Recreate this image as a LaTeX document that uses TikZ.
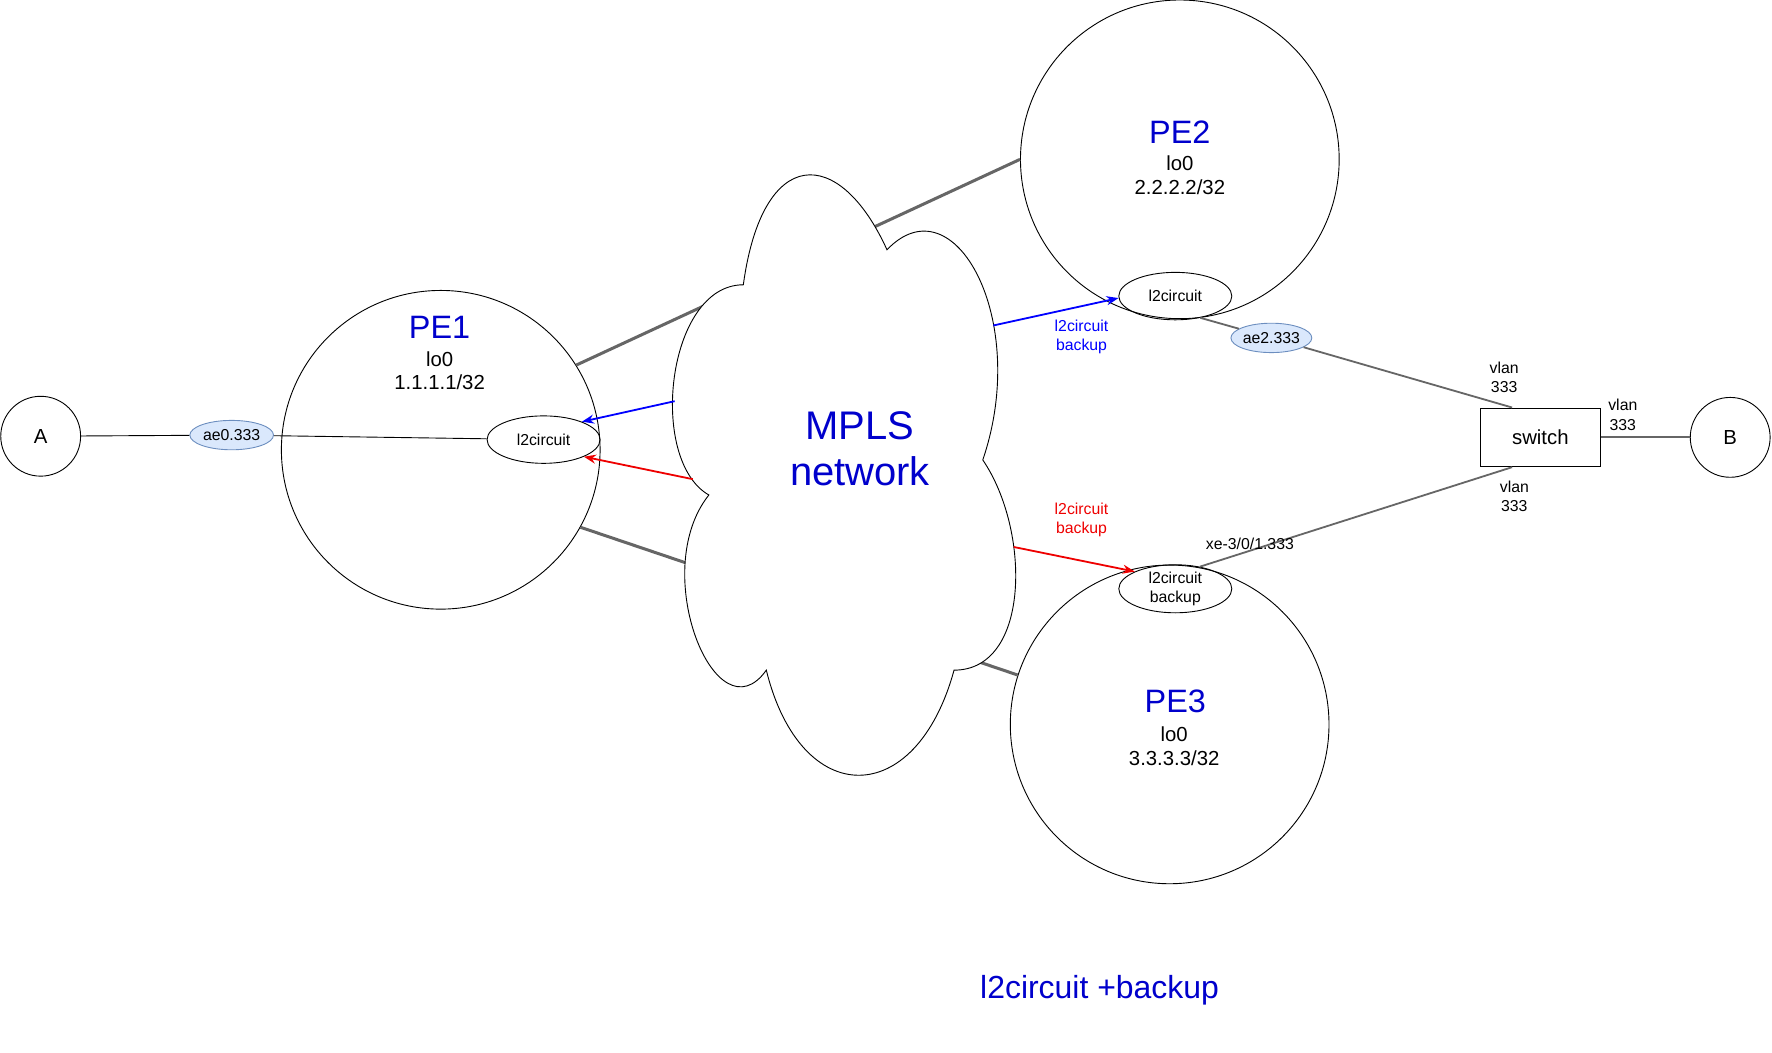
\documentclass[tikz,border=0pt]{standalone}
\usepackage{fontspec}
\setmainfont{Liberation Sans}
\usetikzlibrary{shapes.geometric,arrows.meta,calc}
\definecolor{tblue}{HTML}{0000CC}
\definecolor{lgray}{HTML}{666666}
\definecolor{ifill}{HTML}{DAE8FC}
\definecolor{idraw}{HTML}{6C8EBF}
\definecolor{tred}{HTML}{EE0000}
\newcommand{\fbig}{\fontsize{26.5pt}{31pt}\selectfont}
\newcommand{\fpe}{\fontsize{21.5pt}{25pt}\selectfont}
\newcommand{\fmid}{\fontsize{13.5pt}{15.75pt}\selectfont}
\newcommand{\fsmall}{\fontsize{10.5pt}{12.75pt}\selectfont}
\newcommand{\ftitle}{\fontsize{21.2pt}{25pt}\selectfont}
\begin{document}
\begin{tikzpicture}[x=0.75pt,y=-0.75pt,
  pe/.style={circle,draw,line width=0.6pt,minimum size=211.5pt,inner sep=0pt},
  endpt/.style={circle,draw,line width=0.6pt,minimum size=53pt,inner sep=0pt,font=\fmid},
  lcirc/.style={ellipse,draw,line width=0.6pt,minimum width=75pt,minimum height=31.5pt,inner sep=0pt,font=\fsmall,align=center},
  iface/.style={ellipse,draw=idraw,fill=ifill,line width=0.6pt,minimum height=19.5pt,inner sep=0pt,font=\fsmall},
  lbl/.style={inner sep=0pt,align=center,font=\fsmall},
  pelink/.style={draw=lgray,line width=2pt},
  swlink/.style={draw=lgray,line width=1.2pt},
  thin/.style={draw=black,line width=0.6pt},
  arr/.style={line width=1.2pt,-{Stealth[length=8pt,width=6pt]}}
]
\useasboundingbox (0,0) rectangle (1568,931);

% nodes
\node[endpt] (A) at (36,386) {A};
\node[endpt] (B) at (1531,387) {B};
\node[pe] (pe1) at (390,398) {};
\node[pe] (pe2) at (1044,141) {};
\node[pe] (pe3) at (1035,641) {};

% PE links behind cloud
\draw[pelink] (pe1.32) -- (pe2.180);
\draw[pelink] (pe1.-29) -- (pe3.162);

% cloud
\begin{scope}[shift={(573,97)},x=254.25pt,y=-465pt]
\draw[fill=white,line width=0.6pt] (0.25,0.25) .. controls (0.05,0.25) and (0,0.5) .. (0.16,0.55)
 .. controls (0,0.66) and (0.18,0.9) .. (0.31,0.8)
 .. controls (0.4,1) and (0.7,1) .. (0.8,0.8)
 .. controls (1,0.8) and (1,0.6) .. (0.875,0.5)
 .. controls (1,0.3) and (0.8,0.1) .. (0.625,0.2)
 .. controls (0.5,0.05) and (0.3,0.05) .. (0.25,0.25) -- cycle;
\end{scope}
\node[font=\fbig,text=tblue,align=center,inner sep=0pt] (mpls) at (761,397) {MPLS\\network};

% PE texts
\node[font=\fpe,text=tblue,inner sep=0pt] (pe1t) at (389,290) {PE1};
\node[font=\fmid,align=center,inner sep=0pt] (pe1l) at (389,328) {lo0\\1.1.1.1/32};
\node[font=\fpe,text=tblue,inner sep=0pt] (pe2t) at (1044,117) {PE2};
\node[font=\fmid,align=center,inner sep=0pt] (pe2l) at (1044,155) {lo0\\2.2.2.2/32};
\node[font=\fpe,text=tblue,inner sep=0pt] (pe3t) at (1040,621) {PE3};
\node[font=\fmid,align=center,inner sep=0pt] (pe3l) at (1039,660) {lo0\\3.3.3.3/32};

% l2circuit ellipses
\node[lcirc] (l2a) at (481,389) {l2circuit};
\node[lcirc] (l2b) at (1040,262) {l2circuit};
\node[lcirc] (l2c) at (1040,521) {l2circuit\\backup};

% interfaces
\node[iface,minimum width=55.5pt] (ae0) at (205,385) {ae0.333};
\node[iface,minimum width=48pt] (ae2) at (1125,299) {ae2.333};

% switch
\node[draw,line width=0.6pt,minimum width=79.5pt,minimum height=39pt,inner sep=0pt,font=\fmid] (sw) at (1363,387) {switch};

% thin links
\draw[thin] (A) -- (ae0);
\draw[thin] (ae0) -- (l2a);
\draw[swlink] (l2b.-41) -- (ae2);
\draw[swlink] (ae2) -- ([xshift=-18.75pt]sw.north);
\draw[swlink] ([xshift=-18.75pt]sw.south) -- (l2c.42);
\draw[swlink] (sw) -- (B);

% arrows
\coordinate (c1) at (597,355);
\coordinate (c2) at (613,424);
\coordinate (c3) at (879,288);
\coordinate (c4) at (897,484);
\draw[arr,blue] (c1) -- (l2a.25);
\draw[arr,tred] (c2) -- (l2a.-23);
\draw[arr,blue] (c3) -- (l2b.182);
\draw[arr,tred] (c4) -- (l2c.157);

% labels
\node[lbl,text=blue] (lb1) at (957,298) {l2circuit\\backup};
\node[lbl,text=tred] (lb2) at (957,460) {l2circuit\\backup};
\node[lbl] (v1) at (1331,334) {vlan\\333};
\node[lbl] (v2) at (1436,367) {vlan\\333};
\node[lbl] (v3) at (1340,439) {vlan\\333};
\node[lbl] (xe) at (1106,481) {xe-3/0/1.333};

% title
\node[font=\ftitle,text=tblue,inner sep=0pt] (title) at (973,876) {l2circuit +backup};
\end{tikzpicture}
\end{document}
